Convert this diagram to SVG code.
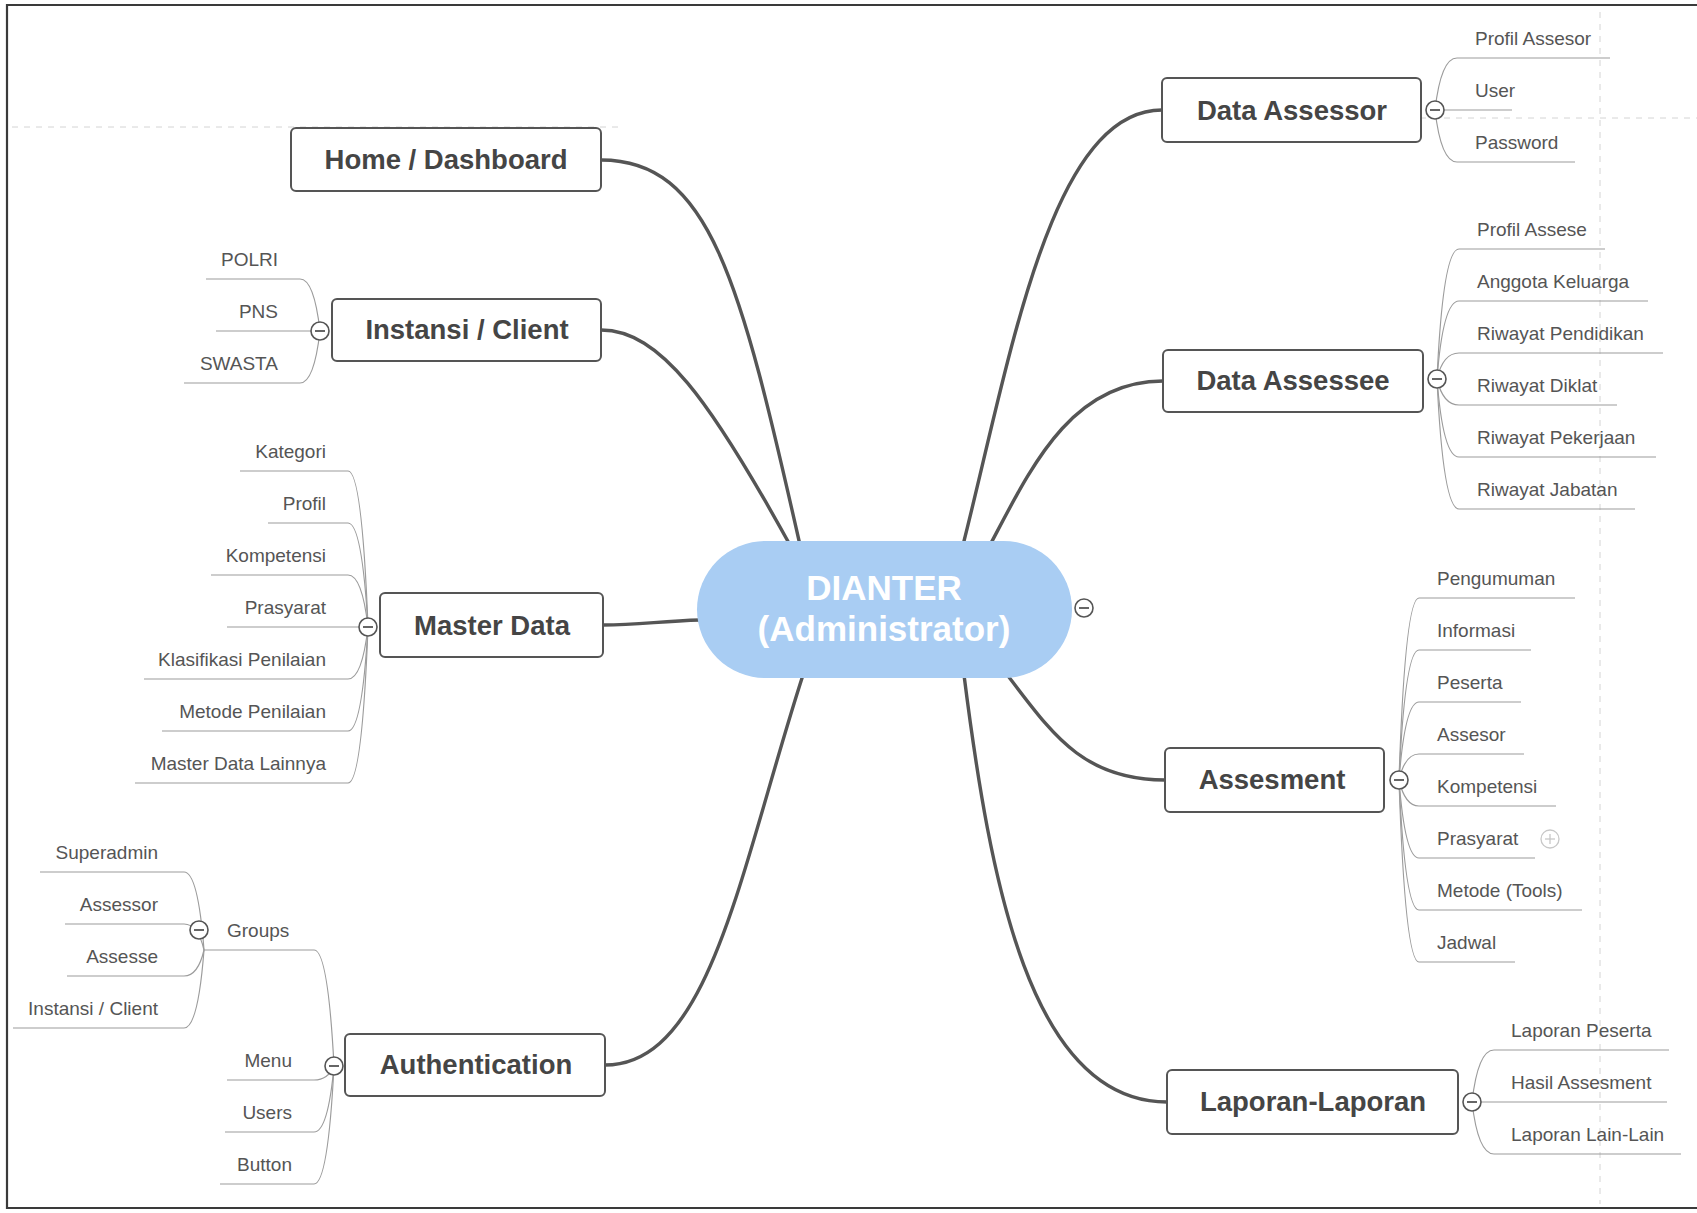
<svg xmlns="http://www.w3.org/2000/svg" width="1697" height="1213" viewBox="0 0 1697 1213">
<style>
  .bg{fill:#ffffff}
  .frame{stroke:#3a3a3a;stroke-width:2.2;fill:none}
  .grid{stroke:#d4d4d4;stroke-width:1;stroke-dasharray:6 6;fill:none}
  .main{stroke:#555;stroke-width:3.4;fill:none;stroke-linecap:round}
  .leaf{stroke:#9c9c9c;stroke-width:1.2;fill:none}
  .box{fill:#fff;stroke:#555;stroke-width:2}
  .btitle{font-family:"Liberation Sans",Arial,sans-serif;font-weight:bold;font-size:27.5px;fill:#454545;text-anchor:middle}
  .center{fill:#a9cdf3}
  .ctext{font-family:"Liberation Sans",Arial,sans-serif;font-weight:bold;font-size:35px;fill:#ffffff;text-anchor:middle}
  .lt{font-family:"Liberation Sans",Arial,sans-serif;font-size:19px;fill:#555}
  .r{text-anchor:end}
  .tog{fill:#fff;stroke:#555;stroke-width:1.6}
  .togm{stroke:#555;stroke-width:1.8}
  .plus{fill:#fff;stroke:#c8c8c8;stroke-width:1.3}
</style>
<rect class="bg" x="0" y="0" width="1697" height="1213"/>
<g id="frame">
  <line class="grid" x1="12" y1="127" x2="620" y2="127"/>
  <line class="grid" x1="1420" y1="118" x2="1697" y2="118"/>
  <line class="grid" x1="1600" y1="12" x2="1600" y2="1204"/>
  <path class="frame" d="M1697,5 L7,5 L7,1208 L1697,1208"/>
</g>
<g id="connectors">
  <path class="main" d="M601,160 C710,160 740,280 800,545"/>
  <path class="main" d="M601,330 C660,330 710,400 790,545"/>
  <path class="main" d="M603,625 C640,625 660,621 700,620"/>
  <path class="main" d="M605,1065 C710,1065 740,870 803,675"/>
  <path class="main" d="M963,545 C1010,360 1050,110 1162,110"/>
  <path class="main" d="M990,545 C1030,470 1070,381 1163,381"/>
  <path class="main" d="M1005,672 C1050,730 1080,780 1165,780"/>
  <path class="main" d="M964,675 C990,880 1030,1102 1167,1102"/>
  <!-- Data Assessor leaves -->
  <path class="leaf" d="M1435,110 Q1441,58 1457,58 L1610,58"/>
  <path class="leaf" d="M1435,110 L1512,110"/>
  <path class="leaf" d="M1435,110 Q1441,162 1457,162 L1575,162"/>
  <!-- Data Assessee leaves -->
  <path class="leaf" d="M1437,379 Q1443,249 1459,249 L1605,249"/>
  <path class="leaf" d="M1437,379 Q1443,301 1459,301 L1648,301"/>
  <path class="leaf" d="M1437,379 Q1443,353 1459,353 L1663,353"/>
  <path class="leaf" d="M1437,379 Q1443,405 1459,405 L1617,405"/>
  <path class="leaf" d="M1437,379 Q1443,457 1459,457 L1656,457"/>
  <path class="leaf" d="M1437,379 Q1443,509 1459,509 L1635,509"/>
  <!-- Assesment leaves -->
  <path class="leaf" d="M1399,780 Q1405,598 1419,598 L1575,598"/>
  <path class="leaf" d="M1399,780 Q1405,650 1419,650 L1531,650"/>
  <path class="leaf" d="M1399,780 Q1405,702 1419,702 L1521,702"/>
  <path class="leaf" d="M1399,780 Q1405,754 1419,754 L1524,754"/>
  <path class="leaf" d="M1399,780 Q1405,806 1419,806 L1556,806"/>
  <path class="leaf" d="M1399,780 Q1405,858 1419,858 L1535,858"/>
  <path class="leaf" d="M1399,780 Q1405,910 1419,910 L1582,910"/>
  <path class="leaf" d="M1399,780 Q1405,962 1419,962 L1515,962"/>
  <!-- Laporan leaves -->
  <path class="leaf" d="M1472,1102 Q1478,1050 1494,1050 L1669,1050"/>
  <path class="leaf" d="M1472,1102 L1667,1102"/>
  <path class="leaf" d="M1472,1102 Q1478,1154 1494,1154 L1681,1154"/>
  <!-- Instansi leaves -->
  <path class="leaf" d="M320,331 Q314,279 300,279 L206,279"/>
  <path class="leaf" d="M320,331 L216,331"/>
  <path class="leaf" d="M320,331 Q314,383 300,383 L184,383"/>
  <!-- Master Data leaves -->
  <path class="leaf" d="M368,627 Q362,471 348,471 L240,471"/>
  <path class="leaf" d="M368,627 Q362,523 348,523 L268,523"/>
  <path class="leaf" d="M368,627 Q362,575 348,575 L211,575"/>
  <path class="leaf" d="M368,627 L227,627"/>
  <path class="leaf" d="M368,627 Q362,679 348,679 L144,679"/>
  <path class="leaf" d="M368,627 Q362,731 348,731 L162,731"/>
  <path class="leaf" d="M368,627 Q362,783 348,783 L135,783"/>
  <!-- Authentication leaves -->
  <path class="leaf" d="M334,1066 Q328,950 314,950 L204,950"/>
  <path class="leaf" d="M334,1066 Q328,1080 314,1080 L227,1080"/>
  <path class="leaf" d="M334,1066 Q328,1132 314,1132 L225,1132"/>
  <path class="leaf" d="M334,1066 Q328,1184 314,1184 L220,1184"/>
  <!-- Groups leaves -->
  <path class="leaf" d="M204,950 Q198,872 184,872 L40,872"/>
  <path class="leaf" d="M204,950 Q198,924 184,924 L65,924"/>
  <path class="leaf" d="M204,950 Q198,976 184,976 L67,976"/>
  <path class="leaf" d="M204,950 Q198,1028 184,1028 L13,1028"/>
</g>
<g id="center">
  <rect class="center" x="697" y="541" width="375" height="137" rx="68.5"/>
  <text class="ctext" x="884" y="600">DIANTER</text>
  <text class="ctext" x="884" y="641">(Administrator)</text>
  <circle class="tog" cx="1084" cy="608" r="9"/><line class="togm" x1="1079" y1="608" x2="1089" y2="608"/>
</g>
<g id="home">
  <rect class="box" x="291" y="128" width="310" height="63" rx="5"/>
  <text class="btitle" x="446" y="169">Home / Dashboard</text>
</g>
<g id="instansi">
  <rect class="box" x="332" y="299" width="269" height="62" rx="5"/>
  <text class="btitle" x="467" y="339">Instansi / Client</text>
  <circle class="tog" cx="320" cy="331" r="9"/><line class="togm" x1="315" y1="331" x2="325" y2="331"/>
  <text class="lt r" x="278" y="266">POLRI</text>
  <text class="lt r" x="278" y="318">PNS</text>
  <text class="lt r" x="278" y="370">SWASTA</text>
</g>
<g id="masterdata">
  <rect class="box" x="380" y="593" width="223" height="64" rx="5"/>
  <text class="btitle" x="492" y="635">Master Data</text>
  <circle class="tog" cx="368" cy="627" r="9"/><line class="togm" x1="363" y1="627" x2="373" y2="627"/>
  <text class="lt r" x="326" y="458">Kategori</text>
  <text class="lt r" x="326" y="510">Profil</text>
  <text class="lt r" x="326" y="562">Kompetensi</text>
  <text class="lt r" x="326" y="614">Prasyarat</text>
  <text class="lt r" x="326" y="666">Klasifikasi Penilaian</text>
  <text class="lt r" x="326" y="718">Metode Penilaian</text>
  <text class="lt r" x="326" y="770">Master Data Lainnya</text>
</g>
<g id="authentication">
  <rect class="box" x="345" y="1034" width="260" height="62" rx="5"/>
  <text class="btitle" x="476" y="1074">Authentication</text>
  <circle class="tog" cx="334" cy="1066" r="9"/><line class="togm" x1="329" y1="1066" x2="339" y2="1066"/>
  <text class="lt" x="227" y="937">Groups</text>
  <text class="lt r" x="292" y="1067">Menu</text>
  <text class="lt r" x="292" y="1119">Users</text>
  <text class="lt r" x="292" y="1171">Button</text>
</g>
<g id="groups">
  <circle class="tog" cx="199" cy="930" r="9"/><line class="togm" x1="194" y1="930" x2="204" y2="930"/>
  <text class="lt r" x="158" y="859">Superadmin</text>
  <text class="lt r" x="158" y="911">Assessor</text>
  <text class="lt r" x="158" y="963">Assesse</text>
  <text class="lt r" x="158" y="1015">Instansi / Client</text>
</g>
<g id="dataassessor">
  <rect class="box" x="1162" y="78" width="259" height="64" rx="5"/>
  <text class="btitle" x="1292" y="120">Data Assessor</text>
  <circle class="tog" cx="1435" cy="110" r="9"/><line class="togm" x1="1430" y1="110" x2="1440" y2="110"/>
  <text class="lt" x="1475" y="45">Profil Assesor</text>
  <text class="lt" x="1475" y="97">User</text>
  <text class="lt" x="1475" y="149">Password</text>
</g>
<g id="dataassessee">
  <rect class="box" x="1163" y="350" width="260" height="62" rx="5"/>
  <text class="btitle" x="1293" y="390">Data Assessee</text>
  <circle class="tog" cx="1437" cy="379" r="9"/><line class="togm" x1="1432" y1="379" x2="1442" y2="379"/>
  <text class="lt" x="1477" y="236">Profil Assese</text>
  <text class="lt" x="1477" y="288">Anggota Keluarga</text>
  <text class="lt" x="1477" y="340">Riwayat Pendidikan</text>
  <text class="lt" x="1477" y="392">Riwayat Diklat</text>
  <text class="lt" x="1477" y="444">Riwayat Pekerjaan</text>
  <text class="lt" x="1477" y="496">Riwayat Jabatan</text>
</g>
<g id="assesment">
  <rect class="box" x="1165" y="748" width="219" height="64" rx="5"/>
  <text class="btitle" x="1272" y="789">Assesment</text>
  <circle class="tog" cx="1399" cy="780" r="9"/><line class="togm" x1="1394" y1="780" x2="1404" y2="780"/>
  <text class="lt" x="1437" y="585">Pengumuman</text>
  <text class="lt" x="1437" y="637">Informasi</text>
  <text class="lt" x="1437" y="689">Peserta</text>
  <text class="lt" x="1437" y="741">Assesor</text>
  <text class="lt" x="1437" y="793">Kompetensi</text>
  <text class="lt" x="1437" y="845">Prasyarat</text>
  <circle class="plus" cx="1550" cy="839" r="9"/><line class="plus" x1="1545" y1="839" x2="1555" y2="839"/><line class="plus" x1="1550" y1="834" x2="1550" y2="844"/>
  <text class="lt" x="1437" y="897">Metode (Tools)</text>
  <text class="lt" x="1437" y="949">Jadwal</text>
</g>
<g id="laporan">
  <rect class="box" x="1167" y="1070" width="291" height="64" rx="5"/>
  <text class="btitle" x="1313" y="1111">Laporan-Laporan</text>
  <circle class="tog" cx="1472" cy="1102" r="9"/><line class="togm" x1="1467" y1="1102" x2="1477" y2="1102"/>
  <text class="lt" x="1511" y="1037">Laporan Peserta</text>
  <text class="lt" x="1511" y="1089">Hasil Assesment</text>
  <text class="lt" x="1511" y="1141">Laporan Lain-Lain</text>
</g>
</svg>
